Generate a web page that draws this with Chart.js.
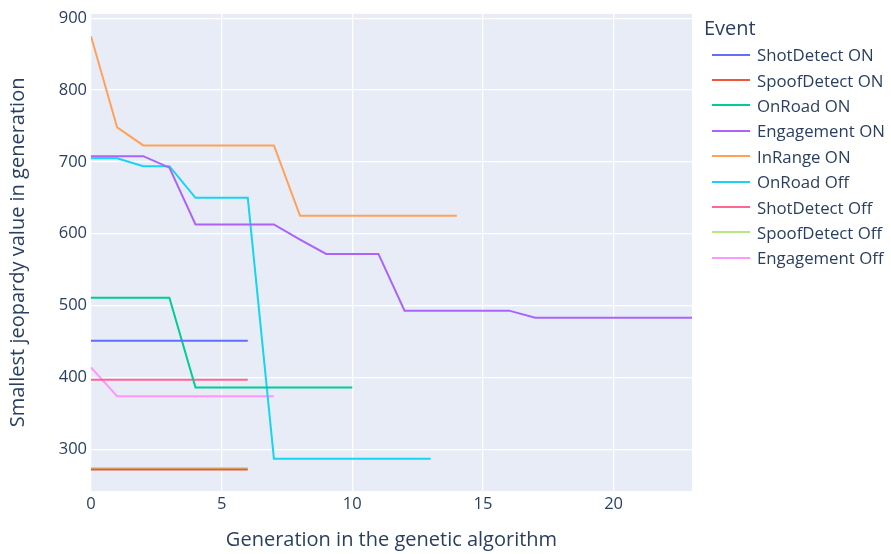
<!DOCTYPE html>
<html>
<head>
<meta charset="utf-8">
<script src="https://cdn.jsdelivr.net/npm/chart.js@4.4.1/dist/chart.umd.min.js"></script>
<style>
html,body{margin:0;padding:0;background:#fff;}
#wrap{position:relative;width:891px;height:554px;}
canvas{position:absolute;left:0;top:0;}
#legend{position:absolute;left:704px;top:14px;font-family:"Open Sans",sans-serif;color:#2a3f5f;}
#legend .title{font-size:20px;height:28px;line-height:28px;margin-bottom:0px;}
#legend .item{display:flex;align-items:center;height:25.4px;font-size:16.8px;white-space:nowrap;}
#legend .sw{width:38px;height:2px;margin-left:8px;margin-right:7px;}
</style>
</head>
<body>
<div id="wrap">
<canvas id="c" width="891" height="554"></canvas>
<div id="legend"></div>
</div>
<script>
const seriesNames = ["ShotDetect ON","SpoofDetect ON","OnRoad ON","Engagement ON","InRange ON","OnRoad Off","ShotDetect Off","SpoofDetect Off","Engagement Off"];
const seriesColors = ["#636efa","#EF553B","#00cc96","#ab63fa","#FFA15A","#19d3f3","#FF6692","#B6E880","#FF97FF"];

const shotDetectOn   = [451,451,451,451,451,451,451];
const spoofDetectOn  = [272,272,272,272,272,272,272];
const onRoadOn       = [511,511,511,511,386,386,386,386,386,386,386];
const engagementOn   = [708,708,708,692,613,613,613,613,592,572,572,572,493,493,493,493,493,483,483,483,483,483,483,483];
const inRangeOn      = [875,748,723,723,723,723,723,723,625,625,625,625,625,625,625];
const onRoadOff      = [705,705,694,694,650,650,650,287,287,287,287,287,287,287];
const shotDetectOff  = [397,397,397,397,397,397,397];
const spoofDetectOff = [274,274,274,274,274,274,274];
const engagementOff  = [414,374,374,374,374,374,374,374];

const seriesValues = [shotDetectOn,spoofDetectOn,onRoadOn,engagementOn,inRangeOn,onRoadOff,shotDetectOff,spoofDetectOff,engagementOff];
const xTicks = [0,5,10,15,20];
const yTicks = [300,400,500,600,700,800,900];

const FONT = '"Open Sans", sans-serif';
const TXT = '#2a3f5f';

const datasets = seriesNames.map((n,i)=>({
  label:n,
  data: seriesValues[i].map((v,j)=>({x:j,y:v})),
  borderColor: seriesColors[i],
  backgroundColor: seriesColors[i],
  borderWidth: 2,
  pointRadius: 0,
  fill:false,
  tension:0
}));

const bgPlugin = {
  id:'bg',
  beforeDraw(chart){
    const a = chart.chartArea, ctx = chart.ctx;
    ctx.save();
    ctx.fillStyle = '#E7ECF6';
    ctx.fillRect(a.left,a.top,a.right-a.left,a.bottom-a.top);
    ctx.restore();
  }
};

new Chart(document.getElementById('c'),{
  type:'line',
  data:{datasets},
  plugins:[bgPlugin],
  options:{
    responsive:false,
    animation:false,
    devicePixelRatio:1,
    layout:{padding:{left:0,right:199,top:12,bottom:0}},
    plugins:{legend:{display:false},tooltip:{enabled:false}},
    scales:{
      x:{
        type:'linear',min:0,max:23,
        afterBuildTicks(s){ s.ticks = xTicks.map(v=>({value:v})); },
        afterFit(s){ s.height = 63; },
        grid:{color:'#ffffff',lineWidth:1.3,drawTicks:false},
        border:{display:false},
        ticks:{color:TXT,font:{family:FONT,size:16.5},padding:3},
        title:{display:true,text:'Generation in the genetic algorithm',color:TXT,font:{family:FONT,size:20},padding:{top:6,bottom:2}}
      },
      y:{
        type:'linear',min:242,max:906,
        afterBuildTicks(s){ s.ticks = yTicks.map(v=>({value:v})); },
        afterFit(s){ s.width = 91; },
        grid:{color:'#ffffff',lineWidth:1.3,drawTicks:false},
        border:{display:false},
        ticks:{color:TXT,font:{family:FONT,size:16.5},padding:4},
        title:{display:true,text:'Smallest jeopardy value in generation',color:TXT,font:{family:FONT,size:20},padding:{top:6,bottom:6}}
      }
    }
  }
});

const lg = document.getElementById('legend');
let html = '<div class="title">Event</div>';
seriesNames.forEach((n,i)=>{
  html += '<div class="item"><span class="sw" style="background:'+seriesColors[i]+'"></span><span>'+n+'</span></div>';
});
lg.innerHTML = html;
</script>
</body>
</html>
